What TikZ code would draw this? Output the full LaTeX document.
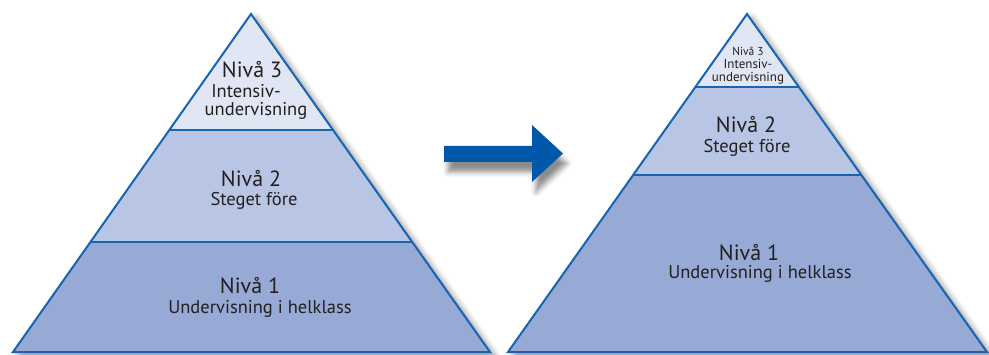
\documentclass[tikz,border=0pt]{standalone}
\usepackage{fontspec}
\setmainfont{PT Sans}
\usetikzlibrary{positioning, calc, shadows.blur}
\definecolor{edgeblue}{RGB}{22,100,178}
\definecolor{arrowblue}{RGB}{0,88,170}
\definecolor{tierlow}{RGB}{151,170,214}
\definecolor{tiermid}{RGB}{185,197,228}
\definecolor{tiertop}{RGB}{224,230,244}
\definecolor{labelgray}{RGB}{35,31,32}

\begin{document}
\begin{tikzpicture}[x=1pt, y=1pt,
  edge/.style={draw=edgeblue, line width=2pt, line join=miter},
  divider/.style={draw=edgeblue, line width=1.6pt},
  softshadow/.style={blur shadow={shadow xshift=5pt, shadow yshift=-4pt, shadow blur radius=6pt, shadow opacity=45}},
  lvl/.style={anchor=base, inner sep=0pt, text=labelgray, font=\fontsize{22}{24}\selectfont},
  sub/.style={anchor=base, inner sep=0pt, text=labelgray, font=\fontsize{18.5}{20}\selectfont},
  tinylvl/.style={anchor=base, inner sep=0pt, text=labelgray, font=\fontsize{13}{14}\selectfont}]
\useasboundingbox (0,0) rectangle (989,354);

% the two pyramids: apex, base ends, heights of the two dividers
\foreach \p/\ax/\bl/\br/\ta/\tb in {L/251/13/490/0.343/0.675, R/747/508/987/0.216/0.476} {
  \coordinate (\p top) at (\ax,340);
  \coordinate (\p bl) at (\bl,2);
  \coordinate (\p br) at (\br,2);
  \coordinate (\p al) at ($(\p top)!\ta!(\p bl)$);
  \coordinate (\p ar) at ($(\p top)!\ta!(\p br)$);
  \coordinate (\p cl) at ($(\p top)!\tb!(\p bl)$);
  \coordinate (\p cr) at ($(\p top)!\tb!(\p br)$);
  \fill[white, softshadow] (\p top) -- (\p bl) -- (\p br) -- cycle;
  \fill[tiertop] (\p top) -- (\p al) -- (\p ar) -- cycle;
  \fill[tiermid] (\p al) -- (\p cl) -- (\p cr) -- (\p ar) -- cycle;
  \fill[tierlow] (\p cl) -- (\p bl) -- (\p br) -- (\p cr) -- cycle;
  \draw[divider] (\p al) -- (\p ar);
  \draw[divider] (\p cl) -- (\p cr);
  \draw[edge] (\p top) -- (\p bl) -- (\p br) -- cycle;
}

% left pyramid labels
\node[lvl] (l3) at (252,276) {Nivå 3};
\node[sub] (l3a) at ([xshift=-6,yshift=-20]l3.base) {Intensiv-};
\node[sub] (l3b) at ([xshift=4,yshift=-38]l3.base) {undervisning};
\node[lvl] (l2) at (251,167) {Nivå 2};
\node[sub] (l2a) at ([xshift=3,yshift=-19]l2.base) {Steget före};
\node[lvl] (l1) at (250,60) {Nivå 1};
\node[sub] (l1a) at ([xshift=10,yshift=-19]l1.base) {Undervisning i helklass};

% right pyramid labels
\node[tinylvl, font=\fontsize{11.5}{13}\selectfont] (r3) at (748,298) {Nivå 3};
\node[tinylvl] (r3a) at ([yshift=-13]r3.base) {Intensiv-};
\node[tinylvl] (r3b) at ([yshift=-26]r3.base) {undervisning};
\node[lvl] (r2) at (746,221) {Nivå 2};
\node[sub] (r2a) at ([xshift=1,yshift=-20]r2.base) {Steget före};
\node[lvl] (r1) at (749,94) {Nivå 1};
\node[sub] (r1a) at ([xshift=11,yshift=-19]r1.base) {Undervisning i helklass};

% the arrow between them
\fill[arrowblue, blur shadow={shadow xshift=4pt, shadow yshift=-10pt, shadow blur radius=5pt, shadow opacity=45}]
  (444,192) -- (532,192) -- (532,172) -- (563,200.5) -- (532,229) -- (532,208) -- (444,208) -- cycle;
\end{tikzpicture}
\end{document}
